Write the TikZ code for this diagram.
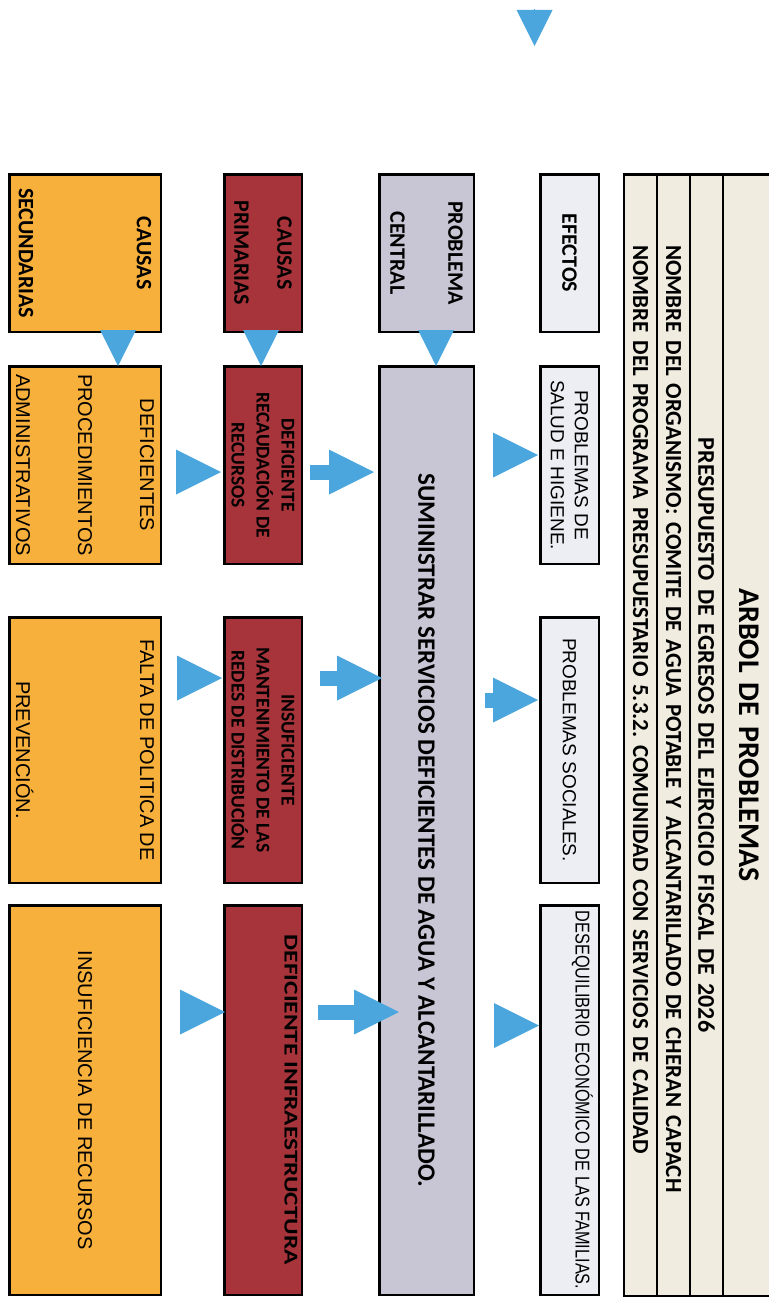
\documentclass[tikz,border=0pt]{standalone}
\usepackage{graphicx}
\usepackage{fontspec}
\setmainfont{Carlito}
\newfontfamily\arialfont{Liberation Sans}
\frenchspacing
\usetikzlibrary{
    arrows.meta,
}
\definecolor{NaranjaCausa}{RGB}{248,176,60}
\definecolor{RojoCausa}{RGB}{166,52,58}
\definecolor{GrisCentral}{RGB}{200,198,212}
\definecolor{BlancoEfecto}{RGB}{236,238,243}
\definecolor{BeigeTitulo}{RGB}{240,236,224}
\definecolor{AzulFlecha}{RGB}{75,166,222}
\tikzstyle{caja}=[draw,rectangle,rotate=-90,line width=2.5pt,inner sep=2pt,align=center]
\tikzstyle{efecto}=[caja,fill=BlancoEfecto,minimum height=58.5pt,font=\arialfont\fontsize{19}{24}\selectfont]
\tikzstyle{central}=[caja,fill=GrisCentral,minimum height=94.5pt,font=\bfseries\fontsize{25}{30}\selectfont]
\tikzstyle{primaria}=[caja,fill=RojoCausa,minimum height=77.5pt,font=\bfseries\fontsize{19.5}{25}\selectfont]
\tikzstyle{secundaria}=[caja,fill=NaranjaCausa,minimum height=151.5pt,font=\arialfont\fontsize{20}{62}\selectfont]
\tikzstyle{etiqueta}=[minimum width=157.5pt,font=\bfseries\fontsize{22}{26}\selectfont]
\tikzstyle{tira}=[caja,fill=BeigeTitulo,outer sep=0pt,inner sep=0pt,minimum width=1121.5pt,minimum height=33pt,text width=980pt,align=left,font=\bfseries\fontsize{23}{25}\selectfont]
\tikzstyle{punta}=[draw=AzulFlecha,line width=0pt,-{Triangle[length=45pt,width=45pt,line width=0pt]}]
\tikzstyle{bloque}=[draw=AzulFlecha,line width=15pt,-{Triangle[length=45pt,width=45pt,line width=0pt]}]
\tikzstyle{puntita}=[draw=AzulFlecha,line width=0pt,-{Triangle[length=36pt,width=36pt,line width=0pt]}]

\begin{document}
\begin{tikzpicture}[x=1pt,y=-1pt]
    \useasboundingbox (0,0) rectangle (768,1303);

    % Encabezado
    \node[tira] (programa) at (640.5,735) {NOMBRE DEL PROGRAMA PRESUPUESTARIO 5.3.2. COMUNIDAD CON SERVICIOS DE CALIDAD};
    \node[tira] (organismo) at (673.5,735) {NOMBRE DEL ORGANISMO: COMITE DE AGUA POTABLE Y ALCANTARILLADO DE CHERAN CAPACH};
    \node[tira,align=center,font=\bfseries\fontsize{24}{26}\selectfont] (presupuesto) at (706.5,735) {PRESUPUESTO DE EGRESOS DEL EJERCICIO FISCAL DE 2026};
    \node[tira,align=center,minimum height=52pt,font=\bfseries\fontsize{30}{32}\selectfont] (arbol) at (749,735) {ARBOL DE PROBLEMAS};

    % Etiquetas
    \node[efecto,etiqueta] (Efectos) at (569.5,253) {EFECTOS};
    \node[central,etiqueta] (Problema central) at (426.5,253) {PROBLEMA\\[32pt]CENTRAL};
    \node[primaria,etiqueta] (Causas primarias) at (263,253) {CAUSAS\\[17pt]PRIMARIAS};
    \node[secundaria,etiqueta] (Causas secundarias) at (85,253) {CAUSAS\\[92pt]SECUNDARIAS};

    % Efectos
    \node[efecto,minimum width=197.5pt] (e1) at (569.5,465) {PROBLEMAS DE\\SALUD E HIGIENE.};
    \node[efecto,minimum width=265.5pt] (e2) at (569.5,750) {PROBLEMAS SOCIALES.};
    \node[efecto,minimum width=389.5pt] (e3) at (569.5,1100) {};
    \node[rotate=-90,font=\arialfont\fontsize{20}{24}\selectfont] (e3 texto) at ([xshift=13pt]e3.center) {\scalebox{0.815}[1]{DESEQUILIBRIO ECONÓMICO DE LAS FAMILIAS.}};

    % Problema central
    \node[central,minimum width=928.5pt] (c) at (426.5,830.5) {SUMINISTRAR SERVICIOS DEFICIENTES DE AGUA Y ALCANTARILLADO.};

    % Causas primarias
    \node[primaria,minimum width=197.5pt] (p1) at (263,465) {DEFICIENTE\\RECAUDACIÓN DE\\RECURSOS};
    \node[primaria,minimum width=265.5pt] (p2) at (263,750) {INSUFICIENTE\\MANTENIMIENTO DE LAS\\REDES DE DISTRIBUCIÓN};
    \node[primaria,minimum width=389.5pt] (p3) at (263,1100) {};
    \node[rotate=-90,font=\bfseries\fontsize{19.5}{25}\selectfont] (p3 texto) at ([xshift=28pt]p3.center) {\scalebox{1.3}[1]{DEFICIENTE INFRAESTRUCTURA}};

    % Causas secundarias
    \node[secundaria,minimum width=197.5pt] (s1) at (85,465) {DEFICIENTES\\PROCEDIMIENTOS\\ADMINISTRATIVOS};
    \node[secundaria,minimum width=265.5pt] (s2) at (85,750) {FALTA DE POLITICA DE\\[62pt]PREVENCIÓN.};
    \node[secundaria,minimum width=389.5pt] (s3) at (85,1100) {INSUFICIENCIA DE RECURSOS};

    % Flechas de las etiquetas
    \coordinate (inicio) at (534.5,10);
    \draw[puntita] (inicio) -- ++(0,36);
    \draw[puntita,shorten <=-3pt,shorten >=-1pt] ([xshift=33pt]Causas secundarias.east) -- ([xshift=33pt]s1.west);
    \draw[puntita,shorten <=-3pt,shorten >=-1pt] ([xshift=-2pt]Causas primarias.east) -- ([xshift=-2pt]p1.west);
    \draw[puntita,shorten <=-3pt,shorten >=-1pt] ([xshift=9.5pt]Problema central.east) -- ([xshift=9.5pt]c.west |- p1.west);

    % Causas secundarias -> causas primarias
    \draw[punta,shorten <=14pt,shorten >=2pt] ([yshift=-7pt]s1.north) -- ([yshift=-7pt]p1.south);
    \draw[punta,shorten <=15pt,shorten >=1pt] ([yshift=72pt]s2.north) -- ([yshift=72pt]p2.south);
    \draw[punta,shorten <=18pt,shorten >=-2pt] ([yshift=88pt]s3.north) -- ([yshift=88pt]p3.south);

    % Causas primarias -> problema central
    \draw[bloque,shorten <=7pt,shorten >=4pt] ([yshift=-7pt]p1.north) -- ([yshift=-7pt]c.south |- p1.north);
    \draw[bloque,shorten <=17pt,shorten >=-4pt] ([yshift=72pt]p2.north) -- ([yshift=72pt]c.south |- p2.north);
    \draw[bloque,shorten <=15pt,shorten >=-21pt] ([yshift=88pt]p3.north) -- ([yshift=88pt]c.south |- p3.north);

    % Problema central -> efectos
    \draw[punta,shorten <=18pt,shorten >=1pt] ([yshift=10pt]c.north |- e1.south) -- ([yshift=10pt]e1.south);
    \draw[bloque,shorten <=10pt,shorten >=1pt] ([yshift=50pt]c.north |- e2.south) -- ([yshift=50pt]e2.south);
    \draw[punta,shorten <=19pt,shorten >=0pt] ([yshift=74.5pt]c.north |- e3.south) -- ([yshift=74.5pt]e3.south);
\end{tikzpicture}
\end{document}
